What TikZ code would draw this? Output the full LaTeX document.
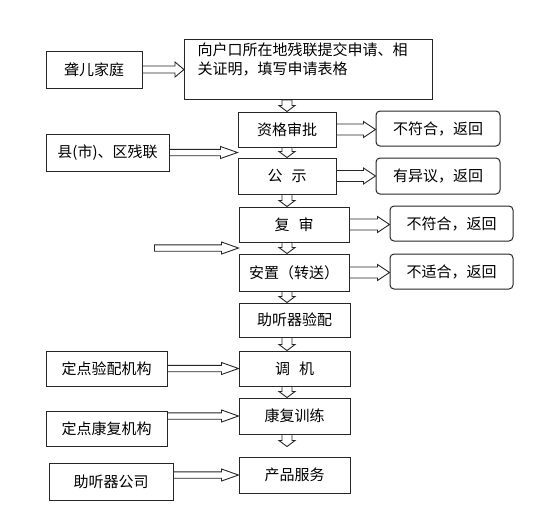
\documentclass[tikz,border=0pt]{standalone}
\usepackage{fontspec}
\setmainfont{Noto Sans CJK SC}
\usetikzlibrary{calc}

\tikzset{
    arr shaft/.store in=\arrs, arr head/.store in=\arrh, arr len/.store in=\arrl,
    box/.style={draw=black!85, line width=1pt, fill=white, inner sep=0pt,
        minimum height=35pt, font=\fontsize{15}{19}\selectfont},
    backbox/.style={box, rounded corners=4pt, minimum width=124pt},
    rarrow/.style={draw=black!85, line width=0.9pt, fill=white,
        to path={let \p1=(\tikztostart), \p2=(\tikztotarget) in
            (\x1,\y1+\arrs) -- (\x2-\arrl,\y1+\arrs) -- (\x2-\arrl,\y1+\arrh) -- (\x2,\y1)
            -- (\x2-\arrl,\y1-\arrh) -- (\x2-\arrl,\y1-\arrs) -- (\x1,\y1-\arrs) -- cycle}},
    sidearrow/.style={rarrow, arr shaft=3.2pt, arr head=6pt, arr len=17pt},
    smallarrow/.style={rarrow, arr shaft=3.5pt, arr head=7.5pt, arr len=9pt},
    backarrow/.style={rarrow, arr shaft=5.5pt, arr head=8pt, arr len=12pt},
    downarrow/.style={draw=black!85, line width=0.9pt, fill=white,
        arr shaft=5pt, arr head=8pt, arr len=6pt,
        to path={let \p1=(\tikztostart), \p2=(\tikztotarget) in
            (\x1-\arrs,\y1) -- (\x1-\arrs,\y2+\arrl) -- (\x1-\arrh,\y2+\arrl) -- (\x1,\y2)
            -- (\x1+\arrh,\y2+\arrl) -- (\x1+\arrs,\y2+\arrl) -- (\x1+\arrs,\y1) -- cycle}}
}

\begin{document}
\begin{tikzpicture}[x=1pt, y=-1pt]
                \useasboundingbox (0,0) rectangle (548,531);

                \node[box, minimum width=96pt, minimum height=37pt] (family) at (94,69.5) {聋儿家庭};
                \node[box, anchor=north west, minimum width=248pt, inner xsep=13pt, inner ysep=4pt,
                    text width=222pt, align=left, text height=12pt, text depth=40pt] (apply) at (184,39)
                    {向户口所在地残联提交申请、相\\关证明，填写申请表格};

                \node[box, minimum width=98pt] (review) at (287,129.5) {资格审批};
                \node[box, minimum width=98pt, minimum height=36pt] (notice) at (287,176) {公\hspace{.6em}示};
                \node[backbox] (back1) at (438,128.5) {不符合，返回};
                \node[backbox, minimum height=36pt] (back2) at (438,176) {有异议，返回};
                \node[box, minimum width=123pt, minimum height=37pt] (county) at (107.5,152.5) {县(市)、区残联};

                \node[box, minimum width=110pt] (recheck) at (294,224.5) {复\hspace{.6em}审};
                \node[box, minimum width=110pt, minimum height=37pt] (place) at (294,272.5) {安置（转送）};
                \node[backbox, minimum width=123pt] (back3) at (451.5,223.5) {不符合，返回};
                \node[backbox, minimum width=123pt] (back4) at (451.5,271.5) {不适合，返回};

                \node[box, minimum width=111pt, minimum height=34pt] (fitting) at (294.5,320) {助听器验配\hspace{8pt}};
                \node[box, minimum width=111pt] (tuning) at (294.5,368.5) {调\hspace{.6em}机\hspace{20pt}};
                \node[box, minimum width=111pt, minimum height=36pt] (rehab) at (294.5,416) {康复训练\hspace{10pt}};
                \node[box, minimum width=111pt, minimum height=36pt] (service) at (294.5,475) {产品服务\hspace{8pt}};

                \node[box, minimum width=121pt] (fitorg) at (106.5,368.5) {定点验配机构};
                \node[box, minimum width=121pt] (rehaborg) at (106.5,428.5) {定点康复机构};
                \node[box, minimum width=124pt, minimum height=37pt] (company) at (111,481.5) {助听器公司\hspace{22pt}};

                \coordinate (gap1) at ($(review.south west)!.5!(notice.north west)$);
                \coordinate (gap2) at ($(recheck.south west)!.5!(place.north west)$);
                \coordinate (inleft) at ([xshift=-84pt]gap2);
                \coordinate (servarrow) at ([yshift=-12pt]rehab.south -| review);

                \draw[smallarrow] (family.east) to (apply.west);
                \draw[sidearrow] (county.east) to (gap1);
                \draw[sidearrow] (inleft) to (gap2);
                \draw[sidearrow] (fitorg.east) to (tuning.west);
                \draw[sidearrow] (rehaborg.east |- rehab.west) to (rehab.west);
                \draw[sidearrow] (company.east |- service.west) to (service.west);

                \draw[backarrow] (review.east) to (back1.west);
                \draw[backarrow] (notice.east) to (back2.west);
                \draw[backarrow] (recheck.east) to (back3.west);
                \draw[backarrow] (place.east) to (back4.west);

                \draw[downarrow] (apply.south -| review) to (review.north);
                \draw[downarrow] (review.south) to (notice.north);
                \draw[downarrow] (notice.south) to (recheck.north -| notice);
                \draw[downarrow] (recheck.south -| review) to (place.north -| review);
                \draw[downarrow] (place.south -| review) to (fitting.north -| review);
                \draw[downarrow] (fitting.south -| review) to (tuning.north -| review);
                \draw[downarrow] (tuning.south -| review) to (rehab.north -| review);
                \draw[downarrow] (rehab.south -| review) to (servarrow);
\end{tikzpicture}
\end{document}
